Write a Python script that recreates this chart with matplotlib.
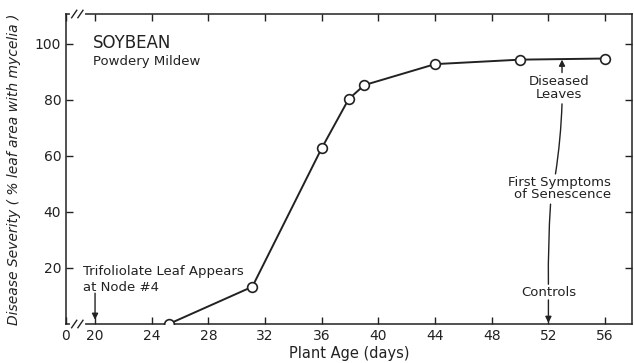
"""Soybean powdery mildew - disease severity vs plant age"""

import matplotlib
matplotlib.use('Agg')
import matplotlib.pyplot as plt

# Datos
edad = [25.2, 31.1, 36.0, 37.9, 39.0, 44.0, 50.0, 56.0]
severidad = [0.0, 13.3, 62.8, 80.3, 85.3, 92.8, 94.4, 94.8]

xticks = [20, 24, 28, 32, 36, 40, 44, 48, 52, 56]
yticks = [20, 40, 60, 80, 100]
x_inicio = 17.95  # posición del "0" con el eje cortado

plt.rcParams['font.family'] = 'DejaVu Sans'
negro = '#222222'

fig = plt.figure(figsize=(6.34, 3.63), dpi=100)
ax = fig.add_axes([66 / 634, 39 / 363, 566 / 634, 310 / 363])

ax.plot(edad, severidad, '-', color=negro, lw=1.4, zorder=2)
ax.plot(edad, severidad, 'o', mfc='white', mec=negro, mew=1.2, ms=7, zorder=3)

ax.set_xlim(x_inicio, 57.9)
ax.set_ylim(0, 110.7)

ax.set_xticks([x_inicio] + xticks)
ax.set_xticklabels(['0'] + [str(t) for t in xticks])
ax.set_yticks(yticks)
ax.tick_params(axis='x', direction='in', top=True, length=5, width=1, labelsize=10, colors=negro)
ax.tick_params(axis='y', direction='in', right=True, length=5, width=1, labelsize=10, colors=negro)
for s in ax.spines.values():
    s.set_color(negro)
    s.set_linewidth(1.1)

ax.set_xlabel('Plant Age (days)', fontsize=10.5, color=negro, labelpad=2)
ax.set_ylabel('Disease Severity ( % leaf area with mycelia )', fontsize=10,
              style='italic', color=negro, labelpad=10)

# Marcas de corte "//" en el eje x (arriba y abajo)
for yb in (0, 1):
    ax.plot([0.010, 0.030], [yb, yb], transform=ax.transAxes, color='white',
            lw=3, clip_on=False, zorder=5)
    for dx in (0.010, 0.021):
        ax.plot([dx, dx + 0.009], [yb - 0.012, yb + 0.012], transform=ax.transAxes,
                color=negro, lw=1, clip_on=False, zorder=6)

# Textos
ax.text(19.85, 100.4, 'SOYBEAN', fontsize=12, va='center', ha='left', color=negro)
ax.text(19.85, 93.6, 'Powdery Mildew', fontsize=9.5, va='center', ha='left', color=negro)

ax.text(19.15, 18.6, 'Trifoliolate Leaf Appears', fontsize=9.5, va='center', color=negro)
ax.text(19.15, 13.2, 'at Node #4', fontsize=9.5, va='center', color=negro)
flecha = dict(arrowstyle='-|>', color=negro, lw=1, mutation_scale=9, shrinkA=0, shrinkB=0)
linea = dict(arrowstyle='-', color=negro, lw=1, shrinkA=0, shrinkB=0)
ax.annotate('', xy=(20, 1.5), xytext=(20, 11), arrowprops=flecha)

ax.text(52.75, 86.6, 'Diseased', fontsize=9.5, ha='center', va='center', color=negro)
ax.text(52.75, 81.8, 'Leaves', fontsize=9.5, ha='center', va='center', color=negro)
ax.annotate('', xy=(52.96, 94.4), xytext=(52.96, 89.8), arrowprops=flecha)
ax.annotate('', xy=(52.96, 78.6), xytext=(52.5, 53.6),
            arrowprops=dict(linea, connectionstyle='arc3,rad=0.03'))

ax.text(52.8, 50.6, 'First Symptoms', fontsize=9.5, ha='center', va='center', color=negro)
ax.text(53.0, 46.2, 'of Senescence', fontsize=9.5, ha='center', va='center', color=negro)
ax.annotate('', xy=(52.0, 14.2), xytext=(52.15, 42.8),
            arrowprops=dict(linea, connectionstyle='arc3,rad=0.02'))

ax.text(52.0, 11.1, 'Controls', fontsize=9.5, ha='center', va='center', color=negro)
ax.annotate('', xy=(52, 0.4), xytext=(52, 8.6), arrowprops=flecha)

fig.savefig('out.png', dpi=100)
